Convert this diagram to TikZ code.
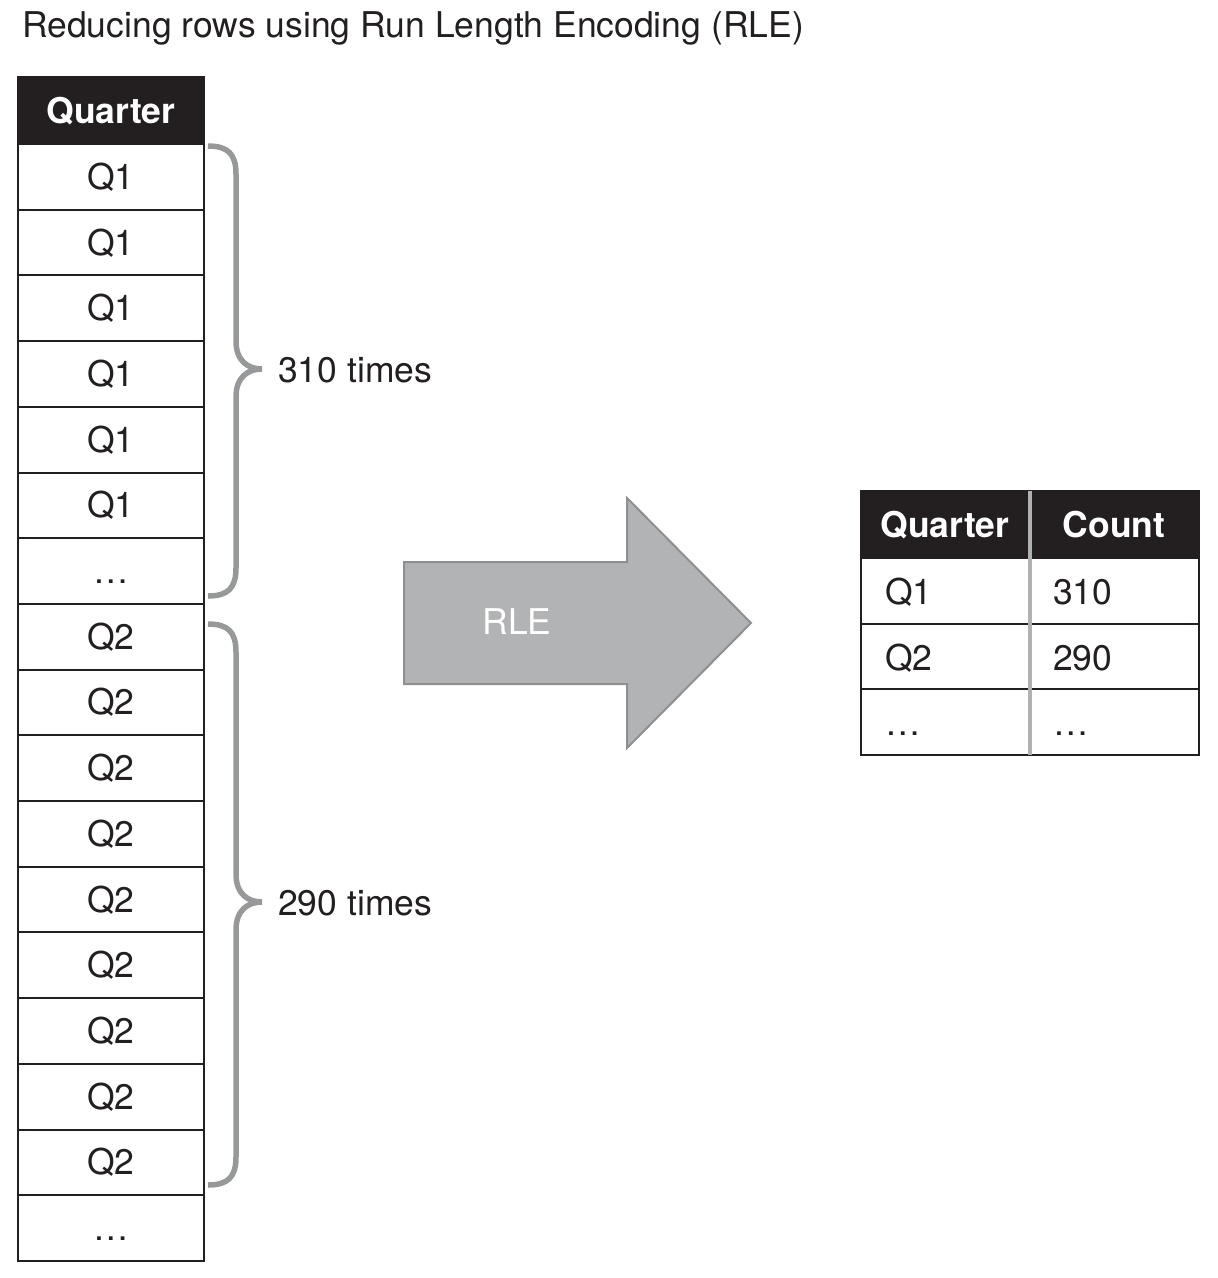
\documentclass[tikz,border=0pt]{standalone}
\usepackage{fontspec}
\setmainfont{TeX Gyre Heros}
\definecolor{ink}{HTML}{231F20}
\definecolor{bracegray}{HTML}{97989A}
\definecolor{arrowfill}{HTML}{B2B3B5}
\definecolor{arrowedge}{HTML}{8E8F91}
\definecolor{divgray}{HTML}{B0B1B3}
\newcommand\rlebrace[3]{% top, tip, bottom
  \draw[brace] (208,#1) .. controls (228,#1) and (236,#1+8) .. (236,#1+28)
    -- (236,#2-28) .. controls (236,#2-8) and (248,#2) .. (262,#2)
    .. controls (248,#2) and (236,#2+8) .. (236,#2+28)
    -- (236,#3-28) .. controls (236,#3-8) and (228,#3) .. (208,#3);}
\begin{document}
\begin{tikzpicture}[x=1pt,y=-1pt,
  bodyfont/.style={font=\fontsize{35.5}{40}\selectfont},
  txt/.style={bodyfont, text=ink, inner sep=0pt},
  cell/.style={draw=ink, line width=2pt, minimum width=186pt, minimum height=65.7pt,
    inner sep=0pt, outer sep=0pt, text height=25pt, text depth=0pt, anchor=north west,
    bodyfont, text=ink},
  headcell/.style={cell, fill=ink, text=white, minimum height=67pt,
    font=\fontsize{35.5}{40}\selectfont\bfseries},
  rcell/.style={draw=ink, line width=2pt, minimum width=169pt, minimum height=65.7pt,
    inner sep=0pt, outer sep=0pt, anchor=north west},
  rhead/.style={rcell, fill=ink, minimum height=67pt},
  brace/.style={draw=bracegray, line width=5.5pt},
  arrowbody/.style={fill=arrowfill, draw=arrowedge, line width=2pt, line join=miter}]
\useasboundingbox (0,0) rectangle (1218,1278);
% title
\node[txt, anchor=base west, font=\fontsize{35.5}{40}\selectfont] (title) at (22,37)
  {Reducing rows using Run Length Encoding (RLE)};
% left table
\node[headcell] (h) at (18,77) {Quarter};
\foreach \i/\t in {0/Q1,1/Q1,2/Q1,3/Q1,4/Q1,5/Q1,6/{\dots},
                   7/Q2,8/Q2,9/Q2,10/Q2,11/Q2,12/Q2,13/Q2,14/Q2,15/Q2,16/{\dots}}
  \node[cell] (r\i) at (18,144+\i*65.7) {\t};
% braces
\rlebrace{146}{369}{596}
\rlebrace{624}{902}{1185}
\node[txt, anchor=base west] (t310) at (278,382) {310 times};
\node[txt, anchor=base west] (t290) at (278,915) {290 times};
% arrow
\draw[arrowbody] (404,562) -- (627,562) -- (627,498) -- (751,623) -- (627,748)
  -- (627,684) -- (404,684) -- cycle;
\node[txt, text=white, anchor=base] (rle) at (517,634) {RLE};
% right table
\node[rhead] (rh1) at (861,491) {};
\node[rhead] (rh2) at (1030,491) {};
\foreach \j in {0,1,2} {
  \node[rcell] (ra\j) at (861,558+\j*65.7) {};
  \node[rcell] (rb\j) at (1030,558+\j*65.7) {};
}
\draw[divgray, line width=4pt] (rh1.north east) -- (ra2.south east);
\node[txt, text=white, font=\fontsize{35.5}{40}\selectfont\bfseries, anchor=base] (hq) at (945,537) {Quarter};
\node[txt, text=white, font=\fontsize{35.5}{40}\selectfont\bfseries, anchor=base] (hc) at (1114,537) {Count};
\node[txt, anchor=base west] (q1) at (885,604) {Q1};
\node[txt, anchor=base west] (c1) at (1053,604) {310};
\node[txt, anchor=base west] (q2) at (885,670) {Q2};
\node[txt, anchor=base west] (c2) at (1053,670) {290};
\node[txt, anchor=base west] (q3) at (885,735) {\dots};
\node[txt, anchor=base west] (c3) at (1053,735) {\dots};
\end{tikzpicture}
\end{document}
